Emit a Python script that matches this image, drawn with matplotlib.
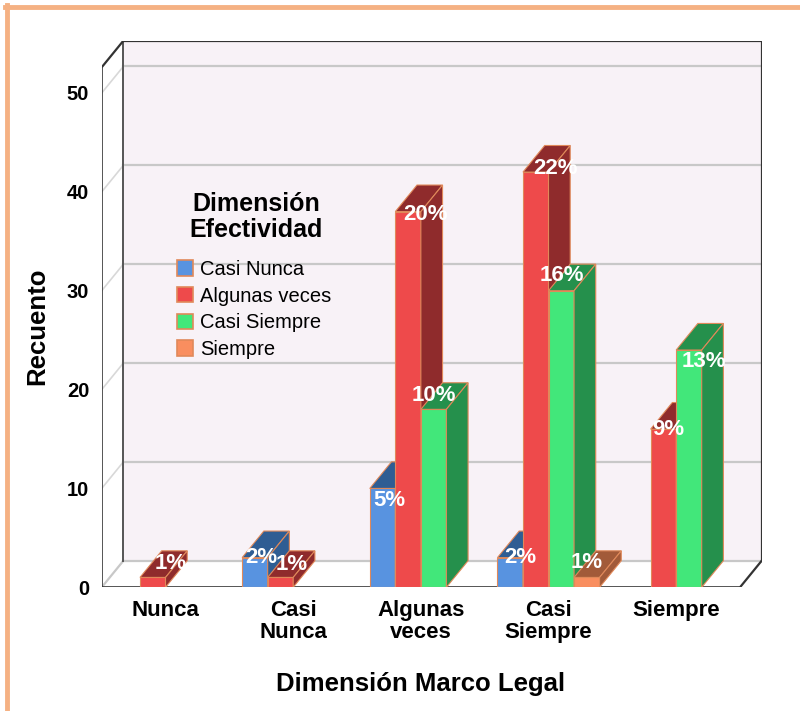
import numpy as np
import matplotlib.pyplot as plt
from matplotlib.patches import Polygon, Patch
from matplotlib.lines import Line2D

plt.rcParams['font.family'] = ['Liberation Sans', 'DejaVu Sans']

categories = ["Nunca", "Casi\nNunca", "Algunas\nveces", "Casi\nSiempre", "Siempre"]
series_names = ["Casi Nunca", "Algunas veces", "Casi Siempre", "Siempre"]

# counts for each series, one value per category (0 = no bar)
casi_nunca = [0, 3, 10, 3, 0]
algunas_veces = [1, 1, 38, 42, 16]
casi_siempre = [0, 0, 18, 30, 24]
siempre = [0, 0, 0, 1, 0]
counts = [casi_nunca, algunas_veces, casi_siempre, siempre]

yticks = [0, 10, 20, 30, 40, 50]

front_colors = ["#5893E0", "#EE4A4B", "#42E77A", "#F98E5F"]
dark_colors = ["#2F5D93", "#8F2B2C", "#25904C", "#A25A39"]
edge_col = "#E0895A"

# label offsets (pixels) from the front-top centre of each bar
label_offsets = [
    [None, (6, 0), (7, -12), (10, 0), None],
    [(18, 14), (11, 13), (17, -3), (20, 4), (5, 0)],
    [None, None, (0, 14), (1, 15), (15, -11)],
    [None, None, None, (0, 15), None],
]

DX = 0.17      # depth offset, category units
DY = 2.69      # depth offset, count units
TOP = 52.6
W = 0.2
x0, x1 = -0.5, 4.5

fig = plt.figure(figsize=(8, 7.11), dpi=100)
ax = fig.add_axes([101.7 / 800, (711 - 587.3) / 711, 660 / 800, 546.6 / 711])
ax.set_xlim(x0, x1 + DX)
ax.set_ylim(0, TOP + DY)
ax.patch.set_visible(False)
for s in ax.spines.values():
    s.set_visible(False)

dark = "#333333"
grid = "#C8C8C8"

# walls and floor
ax.add_patch(Polygon([(x0 + DX, DY), (x1 + DX, DY), (x1 + DX, TOP + DY), (x0 + DX, TOP + DY)],
                     closed=True, facecolor="#F8F2F7", edgecolor="none", zorder=0))
ax.add_patch(Polygon([(x0, 0), (x0 + DX, DY), (x0 + DX, TOP + DY), (x0, TOP)],
                     closed=True, facecolor="white", edgecolor="none", zorder=0))
ax.add_patch(Polygon([(x0, 0), (x1, 0), (x1 + DX, DY), (x0 + DX, DY)],
                     closed=True, facecolor="white", edgecolor="none", zorder=0))

for v in yticks[1:]:
    ax.plot([x0 + DX, x1 + DX], [v + DY, v + DY], color=grid, lw=1.6, zorder=1)
    ax.plot([x0, x0 + DX], [v, v + DY], color="#D8D8D8", lw=1.2, zorder=1)
ax.plot([x0 + DX, x1 + DX], [DY, DY], color=grid, lw=1.6, zorder=1)
ax.plot([x0, x0 + DX], [0, DY], color=grid, lw=1.6, zorder=1)

# dark frame
ax.plot([x0 + DX, x0 + DX], [DY, TOP + DY], color="#555555", lw=1.4, zorder=2)
ax.plot([x0 + DX, x1 + DX, x1 + DX], [TOP + DY, TOP + DY, DY], color=dark, lw=1.6, zorder=2)
ax.plot([x0 + DX, x0, x0, x1, x1 + DX], [TOP + DY, TOP, 0, 0, DY], color=dark, lw=1.6,
        zorder=2, solid_joinstyle='miter')

# bars, left to right
xs = np.arange(len(categories))
for i in range(len(categories)):
    for j in range(len(series_names)):
        h = counts[j][i]
        if h == 0:
            continue
        left = xs[i] + (j - 2) * W
        right = left + W
        z = 3 + i * 4 + j
        ax.add_patch(Polygon([(left, 0), (right, 0), (right, h), (left, h)], closed=True,
                             facecolor=front_colors[j], edgecolor=edge_col, lw=0.8, zorder=z))
        ax.add_patch(Polygon([(left, h), (right, h), (right + DX, h + DY), (left + DX, h + DY)],
                             closed=True, facecolor=dark_colors[j], edgecolor=edge_col,
                             lw=0.8, zorder=z))
        ax.add_patch(Polygon([(right, 0), (right + DX, DY), (right + DX, h + DY), (right, h)],
                             closed=True, facecolor=dark_colors[j], edgecolor=edge_col,
                             lw=0.8, zorder=z))

total = sum(sum(c) for c in counts)
for i in range(len(categories)):
    for j in range(len(series_names)):
        h = counts[j][i]
        if h == 0:
            continue
        pct = "%d%%" % round(100.0 * h / total)
        ax.annotate(pct, (xs[i] + (j - 1.5) * W, h), xytext=label_offsets[j][i],
                    textcoords='offset pixels', ha='center', va='center', color='white',
                    fontsize=16, fontweight='bold', zorder=100)

ax.set_yticks(yticks)
ax.set_yticklabels([str(t) for t in yticks], fontsize=14.5, fontweight='bold')
ax.set_xticks(xs)
ax.set_xticklabels(categories, fontsize=16, fontweight='bold', linespacing=1.05)
ax.tick_params(axis='both', length=0)
ax.tick_params(axis='y', pad=9)
ax.tick_params(axis='x', pad=9)

ax.set_xlabel("Dimensión Marco Legal", fontsize=18.5, fontweight='bold')
ax.xaxis.set_label_coords((420.85 - 101.7) / 660, (587.3 - 684) / 546.6)
ax.xaxis.label.set_va('center')
ax.set_ylabel("Recuento", fontsize=18.5, fontweight='bold')
ax.yaxis.set_label_coords((37 - 101.7) / 660, (587.3 - 326) / 546.6)
ax.yaxis.label.set_va('center')

# legend: title as separate text so its spacing can be matched
fig.text(256 / 800, 1 - 217 / 711, "Dimensión\nEfectividad", ha='center', va='center',
         fontsize=18, fontweight='bold', linespacing=1.1)
handles = [Patch(facecolor=front_colors[j], edgecolor=edge_col, lw=1.2) for j in range(4)]
fig.legend(handles, series_names, loc='upper left',
           bbox_to_anchor=(177 / 800, 1 - 260 / 711), frameon=False, fontsize=14.5,
           handlelength=0.8, handleheight=0.8, handletextpad=0.35,
           labelspacing=0.38, borderpad=0, borderaxespad=0)

# orange page border
fig.add_artist(Line2D([5 / 800, 1], [1 - 7 / 711, 1 - 7 / 711], color="#F5B183", lw=3.5,
                      transform=fig.transFigure))
fig.add_artist(Line2D([7 / 800, 7 / 800], [0, 1 - 5 / 711], color="#F5B183", lw=3.5,
                      transform=fig.transFigure))

fig.savefig("out.png", dpi=100)
